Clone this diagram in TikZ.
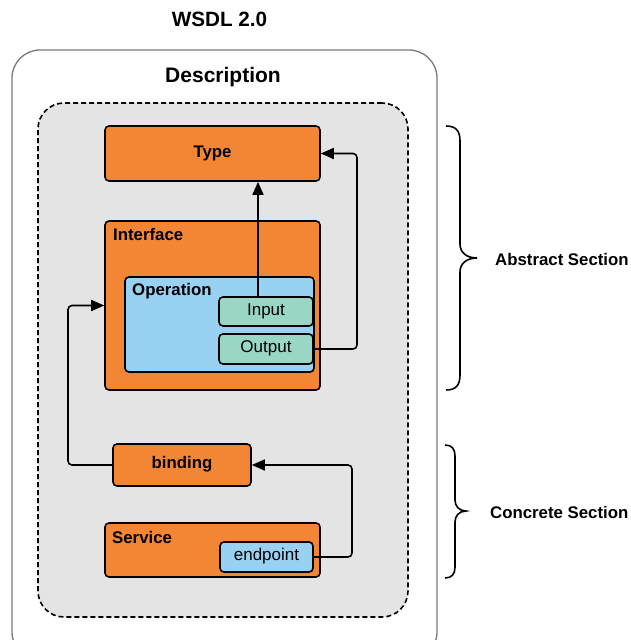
\documentclass[tikz,border=0pt]{standalone}
\usepackage{fontspec}
\setmainfont{Liberation Sans}
\usetikzlibrary{arrows.meta}
\definecolor{org}{HTML}{F38634}
\definecolor{lblue}{HTML}{99D1F3}
\definecolor{teal}{HTML}{99D6C6}
\definecolor{bg}{HTML}{E4E4E4}
\definecolor{outl}{HTML}{7A7A7A}
\tikzset{
  box/.style={draw=black, line width=1.6pt, rounded corners=4pt, inner sep=0pt},
  orbox/.style={box, fill=org},
  lbbox/.style={box, fill=lblue},
  tlbox/.style={box, fill=teal},
  btxt/.style={font=\bfseries\fontsize{16.8}{19}\selectfont, inner sep=0pt},
  ntxt/.style={font=\fontsize{17}{20}\selectfont, inner sep=0pt},
  arr/.style={line width=1.6pt, rounded corners=4pt, -{Triangle[length=13pt,width=11pt]}},
  brc/.style={line width=1.6pt}
}
\begin{document}
\begin{tikzpicture}[x=1pt,y=-1pt]
\useasboundingbox (0,0) rectangle (631,640);
\clip (0,0) rectangle (631,640);
% title
\node[font=\bfseries\fontsize{20.7}{24}\selectfont, inner sep=0pt] (title) at (219.5,19) {WSDL 2.0};
% outer description box
\node[draw=outl, line width=1.3pt, rounded corners=28pt, fill=white, minimum width=425pt, minimum height=610pt, inner sep=0pt] (outer) at (224.5,355) {};
\node[font=\bfseries\fontsize{21}{24}\selectfont, inner sep=0pt] (desc) at (223,77) {Description};
% dashed region
\node[draw=black, dashed, dash pattern=on 5pt off 3pt, line width=1.6pt, rounded corners=26pt, fill=bg, minimum width=370pt, minimum height=514pt, inner sep=0pt] (region) at (223,360) {};
% boxes
\node[orbox, minimum width=215pt, minimum height=55pt] (type) at (212.5,153.5) {};
\node[btxt] (typet) at (212.5,153) {Type};
\node[orbox, minimum width=215pt, minimum height=169pt] (interface) at (212.5,305.5) {};
\node[btxt, anchor=west] (interfacet) at (113,234) {Interface};
\node[lbbox, minimum width=189pt, minimum height=95pt] (operation) at (219.5,324.5) {};
\node[btxt, anchor=west] (operationt) at (132,291) {Operation};
\node[tlbox, minimum width=94pt, minimum height=29pt] (input) at (266,311.5) {};
\node[ntxt] (inputt) at (266,311) {Input};
\node[tlbox, minimum width=94pt, minimum height=30pt] (output) at (266,349) {};
\node[ntxt] (outputt) at (266,348.5) {Output};
\node[orbox, minimum width=138pt, minimum height=42pt] (binding) at (182,465) {};
\node[btxt] (bindingt) at (182,464.5) {binding};
\node[orbox, minimum width=215pt, minimum height=54pt] (service) at (212.5,550) {};
\node[btxt, anchor=west] (servicet) at (112,537) {Service};
\node[lbbox, minimum width=93pt, minimum height=30pt] (endpoint) at (266.5,557) {};
\node[ntxt] (endpointt) at (266.5,556.5) {endpoint};
% connectors
\coordinate (inup) at ([xshift=-8pt]input.north);
\draw[arr] (inup) -- (inup |- type.south);
\coordinate (outbend) at (357,349);
\draw[arr] (output.east) -- (outbend) |- (type.east);
\coordinate (bindbend) at (68,465);
\draw[arr] (binding.west) -- (bindbend) |- (interface.west);
\coordinate (epbend) at (352,557);
\draw[arr] (endpoint.east) -- (epbend) |- (binding.east);
% braces
\draw[brc] (446,126) .. controls (456,126) and (460,131) .. (460,141) -- (460,244)
  .. controls (460,252) and (466,258) .. (477,258)
  .. controls (466,258) and (460,264) .. (460,272) -- (460,375)
  .. controls (460,385) and (456,390) .. (446,390);
\draw[brc] (445,445) .. controls (452,445) and (455,449) .. (455,456) -- (455,500)
  .. controls (455,506) and (459,511) .. (466,511)
  .. controls (459,511) and (455,516) .. (455,522) -- (455,567)
  .. controls (455,574) and (452,578) .. (445,578);
\node[btxt, anchor=west] (abs) at (495,259) {Abstract Section};
\node[btxt, anchor=west] (conc) at (490,512) {Concrete Section};
\end{tikzpicture}
\end{document}
